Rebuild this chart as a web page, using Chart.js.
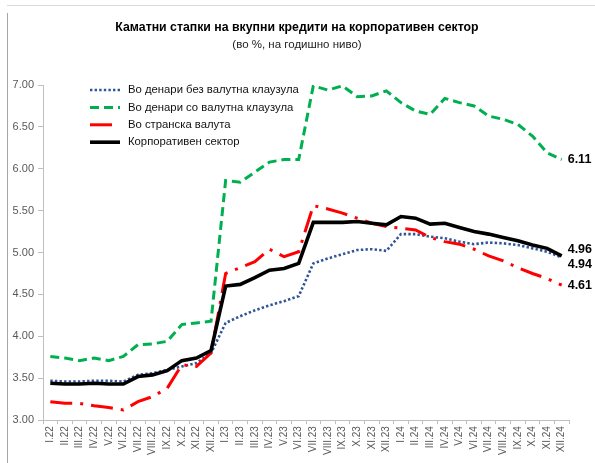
<!DOCTYPE html>
<html>
<head>
<meta charset="utf-8">
<script src="https://cdn.jsdelivr.net/npm/chart.js@4"></script>
<style>
html,body{margin:0;padding:0;background:#fff;}
#wrap{position:relative;width:595px;height:463px;}
</style>
</head>
<body>
<div id="wrap"><canvas id="c" width="595" height="463"></canvas></div>
<script>
const categories = ["I.22","II.22","III.22","IV.22","V.22","VI.22","VII.22","VIII.22","IX.22","X.22","XI.22","XII.22",
"I.23","II.23","III.23","IV.23","V.23","VI.23","VII.23","VIII.23","IX.23","X.23","XI.23","XII.23",
"I.24","II.24","III.24","IV.24","V.24","VI.24","VII.24","VIII.24","IX.24","X.24","XI.24","XII.24"];

const seriesNames = ["Во денари без валутна клаузула","Во денари со валутна клаузула","Во странска валута","Корпоративен сектор"];

const denariNoClause = [3.47,3.46,3.46,3.47,3.47,3.46,3.54,3.56,3.60,3.64,3.68,3.80,
 4.16,4.24,4.31,4.37,4.42,4.48,4.87,4.93,4.98,5.03,5.04,5.02,
 5.22,5.22,5.19,5.17,5.13,5.10,5.12,5.11,5.09,5.05,5.01,4.94];

const denariClause = [3.76,3.74,3.71,3.74,3.71,3.76,3.90,3.91,3.94,4.14,4.16,4.18,
 5.86,5.84,5.96,6.08,6.11,6.11,6.99,6.94,6.99,6.86,6.87,6.93,
 6.79,6.69,6.65,6.84,6.79,6.75,6.63,6.59,6.53,6.39,6.19,6.11];

const foreignCurrency = [3.22,3.20,3.20,3.17,3.15,3.12,3.22,3.28,3.38,3.66,3.64,3.80,
 4.75,4.82,4.89,5.04,4.95,5.01,5.56,5.52,5.47,5.41,5.35,5.31,
 5.29,5.27,5.18,5.13,5.10,5.04,4.96,4.90,4.82,4.75,4.69,4.61];

const corporateSector = [3.44,3.43,3.43,3.44,3.43,3.43,3.52,3.54,3.59,3.71,3.74,3.83,
 4.60,4.62,4.70,4.79,4.81,4.87,5.36,5.36,5.36,5.37,5.35,5.33,
 5.43,5.41,5.34,5.35,5.30,5.25,5.22,5.18,5.14,5.09,5.05,4.96];

const yTicks = [3.00,3.50,4.00,4.50,5.00,5.50,6.00,6.50,7.00];

const titleText = "Каматни стапки на вкупни кредити на корпоративен сектор";
const subtitleText = "(во %, на годишно ниво)";

// end labels: [dataset index, label, dy offset]
const endLabels = [[1,"6.11",0],[3,"4.96",-6],[0,"4.94",7],[2,"4.61",0]];

const FONT = "'Liberation Sans', Arial, sans-serif";

const decor = {
  id:'decor',
  beforeDraw(chart){
    const ctx = chart.ctx;
    ctx.save();
    ctx.fillStyle='#fff';
    ctx.fillRect(0,0,chart.width,chart.height);
    ctx.strokeStyle='#d9d9d9'; ctx.lineWidth=1;
    ctx.beginPath(); ctx.moveTo(7,5.5); ctx.lineTo(chart.width,5.5); ctx.stroke();
    ctx.strokeStyle='#a6a6a6';
    ctx.beginPath(); ctx.moveTo(7.5,13); ctx.lineTo(7.5,chart.height); ctx.stroke();
    ctx.fillStyle='#000';
    ctx.textAlign='center'; ctx.textBaseline='middle';
    ctx.font="bold 12.3px "+FONT;
    ctx.fillText(titleText, 297, 28);
    ctx.font="11.5px "+FONT;
    ctx.fillStyle='#222';
    ctx.fillText(subtitleText, 297, 45);
    ctx.restore();
  },
  afterDatasetsDraw(chart){
    const ctx = chart.ctx;
    ctx.save();
    // legend
    const order=[0,1,2,3];
    order.forEach((di,k)=>{
      const ds = chart.data.datasets[di];
      const y = 90 + k*17.4;
      ctx.save();
      ctx.strokeStyle = ds.borderColor;
      ctx.lineWidth = ds.borderWidth;
      ctx.lineCap = 'butt';
      ctx.setLineDash(ds.legendDash || ds.borderDash || []);
      ctx.beginPath(); ctx.moveTo(90,y); ctx.lineTo(120,y); ctx.stroke();
      ctx.restore();
      ctx.fillStyle='#111';
      ctx.font="11.3px "+FONT;
      ctx.textAlign='left'; ctx.textBaseline='middle';
      ctx.fillText(ds.label, 128, y);
    });
    // end labels
    ctx.font="bold 12.5px "+FONT;
    ctx.fillStyle='#000';
    ctx.textAlign='left'; ctx.textBaseline='middle';
    endLabels.forEach(([di,txt,dy])=>{
      const meta = chart.getDatasetMeta(di);
      const pt = meta.data[meta.data.length-1];
      ctx.fillText(txt, pt.x+6, pt.y+dy);
    });
    ctx.restore();
  }
};

const ctx = document.getElementById('c').getContext('2d');
new Chart(ctx,{
  type:'line',
  data:{
    labels:categories,
    datasets:[
      {label:seriesNames[0], data:denariNoClause, borderColor:'#2F5597', borderWidth:2.6, borderDash:[2.4,2.2], pointRadius:0, tension:0, fill:false, order:3},
      {label:seriesNames[1], data:denariClause, borderColor:'#00B050', borderWidth:3, borderDash:[9,5], pointRadius:0, tension:0, fill:false, order:2},
      {label:seriesNames[2], data:foreignCurrency, borderColor:'#FF0000', borderWidth:3, borderDash:[22,8,3,8], legendDash:[22,100], pointRadius:0, tension:0, fill:false, order:1},
      {label:seriesNames[3], data:corporateSector, borderColor:'#000000', borderWidth:3.6, pointRadius:0, tension:0, fill:false, order:0}
    ]
  },
  options:{
    responsive:false,
    animation:false,
    devicePixelRatio:1,
    layout:{padding:{top:85,right:26,bottom:6,left:10}},
    plugins:{legend:{display:false}, title:{display:false}, tooltip:{enabled:false}},
    scales:{
      x:{
        offset:true,
        grid:{display:true, drawOnChartArea:false, drawTicks:true, tickLength:4, offset:true, color:'#bfbfbf'},
        border:{display:true, color:'#bfbfbf', width:1},
        ticks:{autoSkip:false, maxRotation:90, minRotation:90, font:{family:FONT, size:10}, color:'#595959', padding:2}
      },
      y:{
        min:3, max:7,
        afterBuildTicks(scale){ scale.ticks = yTicks.map(v=>({value:v})); },
        grid:{display:true, drawOnChartArea:false, drawTicks:true, tickLength:5, color:'#bfbfbf'},
        border:{display:true, color:'#bfbfbf', width:1},
        ticks:{font:{family:FONT, size:11}, color:'#595959', padding:4, callback:v=>Number(v).toFixed(2)},
        afterFit(scale){ scale.width = 33; }
      }
    }
  },
  plugins:[decor]
});
</script>
</body>
</html>
